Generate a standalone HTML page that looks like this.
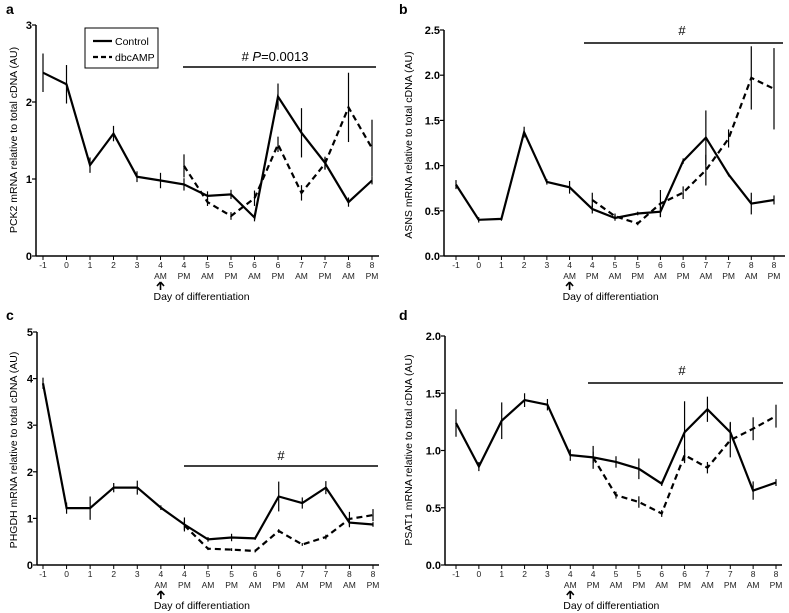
<!DOCTYPE html>
<html><head><meta charset="utf-8"><style>
html,body{margin:0;padding:0;background:#fff}
svg{display:block;font-family:"Liberation Sans",Arial,sans-serif}
</style></head><body>
<svg id="fig" width="789" height="613" viewBox="0 0 789 613" xmlns="http://www.w3.org/2000/svg"></svg>
<script>
const xDays=["-1","0","1","2","3","4","4","5","5","6","6","7","7","8","8"];
const xHalf=["","","","","","AM","PM","AM","PM","AM","PM","AM","PM","AM","PM"];
const aCtrl=[2.38,2.23,1.18,1.59,1.03,0.98,0.93,0.78,0.80,0.50,2.07,1.60,1.21,0.70,0.98];
const aCtrlErr=[0.25,0.25,0.1,0.1,0.07,0.1,0.08,0.06,0.06,0.05,0.17,0.32,0.08,0.06,0.05];
const aDbc=[1.17,0.70,0.52,0.75,1.45,0.82,1.20,1.93,1.40];
const aDbcErr=[0.15,0.05,0.05,0.1,0.1,0.1,0.08,0.45,0.37];
const bCtrl=[0.79,0.40,0.41,1.37,0.82,0.76,0.52,0.42,0.47,0.49,1.05,1.31,0.90,0.58,0.62];
const bCtrlErr=[0.05,0.03,0.02,0.06,0.03,0.07,0.05,0.03,0.02,0.06,0.03,0.3,0.02,0.12,0.05];
const bDbc=[0.62,0.44,0.36,0.58,0.70,0.95,1.30,1.97,1.85];
const bDbcErr=[0.08,0.03,0.02,0.15,0.07,0.17,0.1,0.35,0.45];
const cCtrl=[3.9,1.22,1.22,1.66,1.66,1.23,0.87,0.55,0.59,0.57,1.47,1.33,1.66,0.91,0.87];
const cCtrlErr=[0.12,0.12,0.25,0.1,0.15,0.05,0.15,0.05,0.08,0.03,0.32,0.12,0.14,0.1,0.05];
const cDbc=[0.85,0.35,0.33,0.30,0.73,0.44,0.60,0.99,1.07];
const cDbcErr=[0.1,0.03,0.03,0.03,0.04,0.03,0.05,0.15,0.13];
const dCtrl=[1.24,0.86,1.26,1.44,1.40,0.96,0.94,0.90,0.84,0.71,1.16,1.36,1.16,0.65,0.72];
const dCtrlErr=[0.12,0.04,0.16,0.06,0.05,0.05,0.1,0.05,0.09,0.02,0.27,0.11,0.09,0.08,0.03];
const dDbc=[0.94,0.61,0.55,0.45,0.96,0.85,1.09,1.19,1.30];
const dDbcErr=[0.05,0.03,0.05,0.03,0.05,0.05,0.15,0.1,0.1];
const aTicks=["0","1","2","3"];
const bTicks=["0.0","0.5","1.0","1.5","2.0","2.5"];
const cTicks=["0","1","2","3","4","5"];
const dTicks=["0.0","0.5","1.0","1.5","2.0"];

const NS="http://www.w3.org/2000/svg";
const svg=document.getElementById('fig');
function mk(tag,attrs,parent,text){const e=document.createElementNS(NS,tag);for(const k in attrs)e.setAttribute(k,attrs[k]);if(text!==undefined)e.textContent=text;(parent||svg).appendChild(e);return e;}

const panels=[
 {id:'a',letter:'a',ax:36,xEnd:379,y0:256,ymax:3,yTop:25,x0:43,x14:372,ticks:aTicks,ctrl:aCtrl,ce:aCtrlErr,dbc:aDbc,de:aDbcErr,title:'PCK2 mRNA relative to total cDNA (AU)',ty:140,tx:13,barY:67,barX1:183,barX2:376,hashX:275,hashY:61,pval:true,legend:true,lx:6,ly:14},
 {id:'b',letter:'b',ax:444,xEnd:785,y0:256,ymax:2.5,yTop:30,x0:456,x14:774,ticks:bTicks,ctrl:bCtrl,ce:bCtrlErr,dbc:bDbc,de:bDbcErr,title:'ASNS mRNA relative to total cDNA (AU)',ty:145,tx:408,barY:43,barX1:584,barX2:783,hashX:682,hashY:35,lx:399,ly:14},
 {id:'c',letter:'c',ax:37,xEnd:379,y0:565,ymax:5,yTop:332,x0:43,x14:373,ticks:cTicks,ctrl:cCtrl,ce:cCtrlErr,dbc:cDbc,de:cDbcErr,title:'PHGDH mRNA relative to total cDNA (AU)',ty:450,tx:13,barY:466,barX1:184,barX2:378,hashX:281,hashY:460,lx:6,ly:320},
 {id:'d',letter:'d',ax:445,xEnd:782,y0:565,ymax:2,yTop:336,x0:456,x14:776,ticks:dTicks,ctrl:dCtrl,ce:dCtrlErr,dbc:dDbc,de:dDbcErr,title:'PSAT1 mRNA relative to total cDNA (AU)',ty:450,tx:408,barY:383,barX1:588,barX2:783,hashX:682,hashY:375,lx:399,ly:320}
];

panels.forEach(p=>{
 const g=mk('g',{});
 
 
 const X=i=>p.x0+(p.x14-p.x0)*i/14;
 const Y=v=>p.y0-(p.y0-p.yTop)*v/p.ymax;
 const lt=mk('text',{x:p.lx,y:p.ly,'font-size':14,'font-weight':'bold'},g,p.letter);
 
 // axes
 const ya=mk('line',{x1:p.ax,y1:p.yTop,x2:p.ax,y2:p.y0,stroke:'#000','stroke-width':1.5},g);
 
 const xa=mk('line',{x1:p.ax,y1:p.y0,x2:p.xEnd,y2:p.y0,stroke:'#000','stroke-width':1.5},g);
 
 p.ticks.forEach((t,k)=>{
  const v=p.ymax*k/(p.ticks.length-1);
  mk('line',{x1:p.ax-4,y1:Y(v),x2:p.ax,y2:Y(v),stroke:'#000','stroke-width':1.2},g);
  const tl=mk('text',{x:p.ax-4,y:Y(v)+4,'font-size':11,'font-weight':'bold','text-anchor':'end'},g,t);
  
 });
 xDays.forEach((d,i)=>{
  mk('line',{x1:X(i),y1:p.y0,x2:X(i),y2:p.y0+4,stroke:'#000','stroke-width':1},g);
  const tl=mk('text',{x:X(i),y:p.y0+12,'font-size':8.5,'text-anchor':'middle',fill:'#222'},g,d);
  
  if(xHalf[i]){const h=mk('text',{x:X(i),y:p.y0+23,'font-size':8.5,'text-anchor':'middle',fill:'#222'},g,xHalf[i]);
   }
 });
 // arrow
 const ax5=X(5);
 const ar=mk('path',{d:`M${ax5} ${p.y0+26}L${ax5-3.5} ${p.y0+30}M${ax5} ${p.y0+26}L${ax5+3.5} ${p.y0+30}M${ax5} ${p.y0+26}L${ax5} ${p.y0+34}`,stroke:'#000','stroke-width':1.6,fill:'none'},g);
 
 const xt=mk('text',{x:ax5-7,y:p.y0+44,'font-size':10.5},g,'Day of differentiation');
 
 const yt=mk('text',{x:0,y:0,'font-size':10.5,'text-anchor':'middle',transform:`translate(${p.tx+4},${p.ty}) rotate(-90)`},g,p.title);
 
 // significance bar
 const sb=mk('line',{x1:p.barX1,y1:p.barY,x2:p.barX2,y2:p.barY,stroke:'#000','stroke-width':1.5},g);
 
 let st;
 if(p.pval){st=mk('text',{x:p.hashX,y:p.hashY,'font-size':13,'text-anchor':'middle'},g);
  mk('tspan',{},st,'# ');mk('tspan',{'font-style':'italic'},st,'P');mk('tspan',{},st,'=0.0013');}
 else st=mk('text',{x:p.hashX,y:p.hashY,'font-size':13,'text-anchor':'middle'},g,'#');
 
 // series
 function series(vals,errs,off,dash,name){
  const sg=mk('g',{},g);
  
  vals.forEach((v,i)=>{const x=X(i+off);
   const eb=mk('line',{x1:x,y1:Y(v-errs[i]),x2:x,y2:Y(v+errs[i]),stroke:'#000','stroke-width':1.2},sg);
   });
  const pts=vals.map((v,i)=>X(i+off).toFixed(1)+','+Y(v).toFixed(1)).join(' ');
  const ln=mk('polyline',{points:pts,fill:'none',stroke:'#000','stroke-width':2.2,'stroke-dasharray':dash||'none','stroke-linejoin':'miter'},sg);
  
 }
 series(p.dbc,p.de,6,'6,4','dbcamp-series');
 series(p.ctrl,p.ce,0,null,'control-series');
 if(p.legend){
  const lg=mk('g',{},g);
  
  mk('rect',{x:85,y:28,width:73,height:40,fill:'#fff',stroke:'#000','stroke-width':1},lg);
  mk('line',{x1:93,y1:41,x2:112,y2:41,stroke:'#000','stroke-width':2.2},lg);
  const l1=mk('text',{x:115,y:45,'font-size':10.5},lg,'Control');
  
  mk('line',{x1:93,y1:57,x2:112,y2:57,stroke:'#000','stroke-width':2.2,'stroke-dasharray':'5,3'},lg);
  const l2=mk('text',{x:115,y:61,'font-size':10.5},lg,'dbcAMP');
  
 }
});
</script>
</body></html>
